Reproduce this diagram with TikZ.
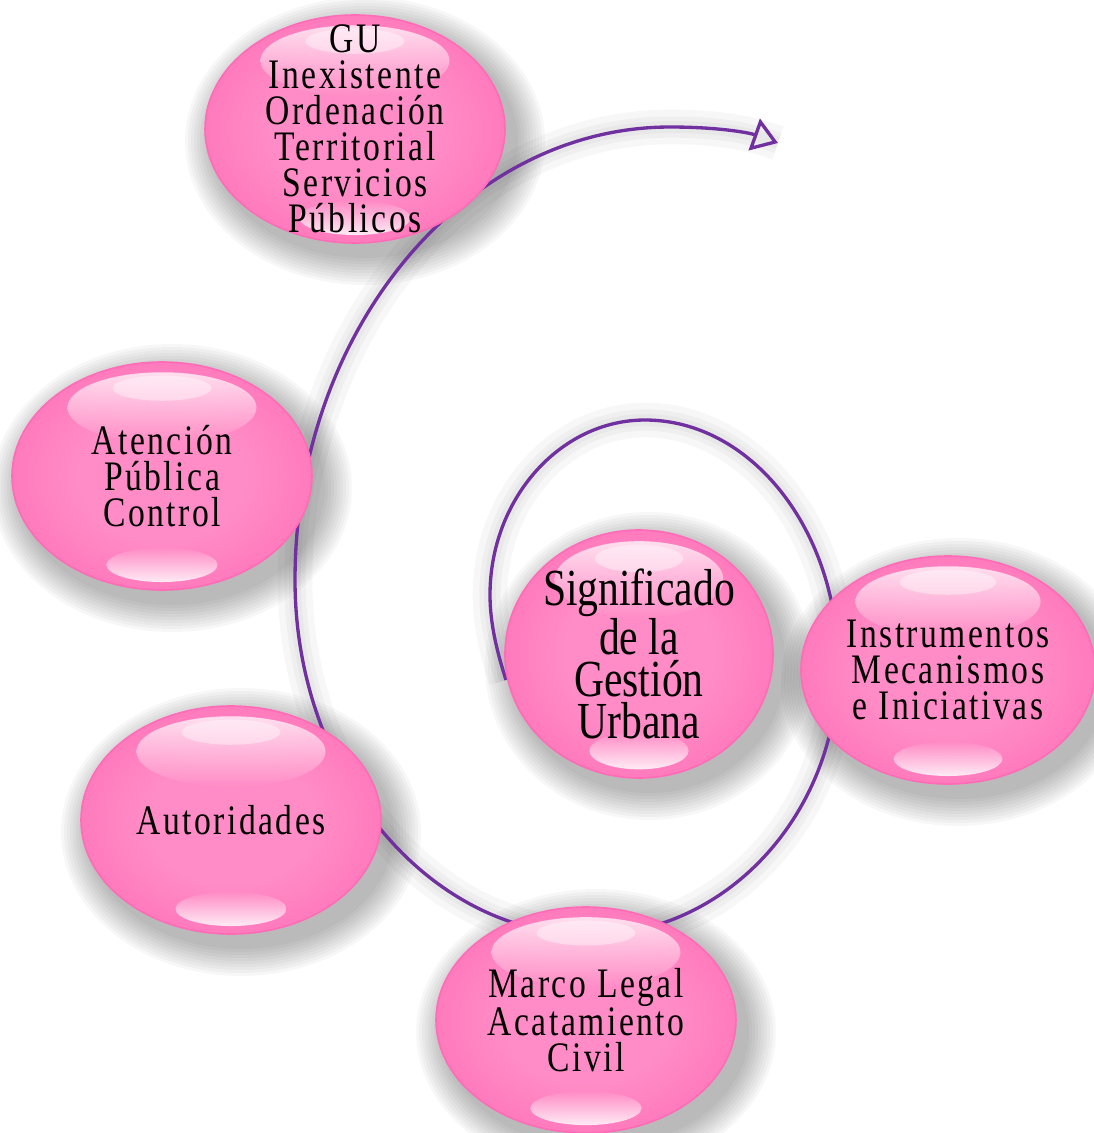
\documentclass[tikz,border=0pt]{standalone}
\usepackage{fontspec}
\setmainfont{Liberation Serif}
\newfontfamily\bubfont[LetterSpace=6, FakeStretch=0.8]{Liberation Serif}
\newfontfamily\bigfont[FakeStretch=0.8]{Liberation Serif}
\usetikzlibrary{shapes.geometric,arrows.meta}
\definecolor{pinkE}{HTML}{FF5DAD}
\definecolor{pinkC}{HTML}{FF8CC6}
\definecolor{pinkL}{HTML}{FF6BB6}
\definecolor{spiralc}{HTML}{7030A0}
\pgfdeclareradialshading{glossy}{\pgfpoint{0bp}{0bp}}{color(0bp)=(pinkC); color(14bp)=(pinkC); color(43bp)=(pinkE); color(50bp)=(pinkE)}
\pgfdeclarelayer{shadowlayer}
\pgfdeclarelayer{curvelayer}
\pgfsetlayers{shadowlayer,curvelayer,main}
\tikzset{
  txt/.style={font=\bubfont\fontsize{31.5}{27}\selectfont, align=center, inner sep=0pt},
  bigtxt/.style={font=\bigfont\fontsize{39}{31.5}\selectfont, align=center, inner sep=0pt},
  spiral/.style={draw=spiralc, line width=2.5pt},
  spiralshadow/.style={draw=black, opacity=0.03},
}
\newcommand\bubble[7]{%
  \begin{pgfonlayer}{shadowlayer}
    \foreach \k in {1,...,10}{\fill[black,opacity=0.032] (#2+10,#3+12) ellipse [x radius=#4+\k*3, y radius=#5+\k*3];}
  \end{pgfonlayer}
  \path[shading=glossy, draw=pinkL, line width=1.2pt] (#2,#3) ellipse [x radius=#4, y radius=#5];
  \shade[top color=white, bottom color=pinkC, opacity=0.75] (#2,#3-0.6*#5) ellipse [x radius=0.63*#4, y radius=0.31*#5];
  \fill[white, opacity=0.4] (#2,#3-0.77*#5) ellipse [x radius=0.33*#4, y radius=0.11*#5];
  \shade[top color=pinkC, bottom color=white, opacity=0.85] (#2,#3+0.78*#5) ellipse [x radius=0.37*#4, y radius=0.15*#5];
  \node[#7] (#1) at (#2,#3) {#6};
}
\begin{document}
\begin{tikzpicture}[x=0.75pt,y=-0.75pt]
\useasboundingbox (0,0) rectangle (1094,1133);
\bubble{gu}{355}{129}{150}{114}{GU\\Inexistente\\Ordenación\\Territorial\\Servicios\\Públicos}{txt}
\bubble{aten}{162}{476}{150}{114}{Atención\\Pública\\Control}{txt}
\bubble{auto}{231}{820}{150}{114}{Autoridades}{txt}
\bubble{marco}{586}{1020}{150}{113}{Marco Legal\\Acatamiento\\Civil}{txt}
\bubble{sig}{639}{654}{134}{124}{Significado\\de la\\Gestión\\Urbana}{bigtxt}
\bubble{inst}{948}{670}{147}{114}{Instrumentos\\Mecanismos\\e Iniciativas}{txt}
\coordinate (s0) at (506,680);
\coordinate (s1) at (490,595);
\coordinate (s2) at (645,420);
\coordinate (s3) at (838,665);
\coordinate (s4) at (590,935);
\coordinate (s5) at (295,580);
\coordinate (s6) at (670,127);
\coordinate (s7) at (778,143);
\begin{pgfonlayer}{curvelayer}
\foreach \w in {26,16,9}{
\draw[spiralshadow, line width=\w pt] (s0) .. controls (498,655) and (490,625) .. (s1) .. controls (490,499) and (560,420) .. (s2) .. controls (751,420) and (838,530) .. (s3) .. controls (838,814) and (726,935) .. (s4) .. controls (428,935) and (295,775) .. (s5) .. controls (295,331) and (464,127) .. (s6) .. controls (720,127) and (750,133) .. (s7);}
\draw[spiral, -{Triangle[open, length=19pt, width=25pt, line width=2.5pt]}] (s0) .. controls (498,655) and (490,625) .. (s1) .. controls (490,499) and (560,420) .. (s2) .. controls (751,420) and (838,530) .. (s3) .. controls (838,814) and (726,935) .. (s4) .. controls (428,935) and (295,775) .. (s5) .. controls (295,331) and (464,127) .. (s6) .. controls (720,127) and (750,133) .. (s7);
\end{pgfonlayer}
\end{tikzpicture}
\end{document}
